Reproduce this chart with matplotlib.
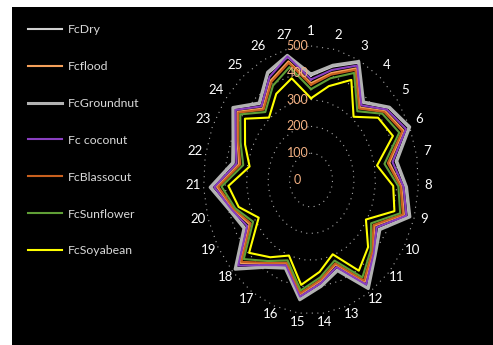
import numpy as np
import matplotlib
matplotlib.use('Agg')
import matplotlib.pyplot as plt
from matplotlib.patches import Rectangle

plt.rcParams['font.family'] = ['Lato', 'DejaVu Sans']

categories = [str(i) for i in range(1, 28)]
levels = [0, 100, 200, 300, 400, 500]

fc_dry = [390, 435, 490, 376, 451, 495, 400, 441, 475, 365, 407, 480, 356, 397,
          447, 347, 387, 480, 355, 392, 465, 365, 391, 449, 371, 445, 472]
fc_flood = [361, 410, 466, 353, 430, 468, 370, 421, 451, 341, 393, 455, 335, 379,
            429, 331, 373, 451, 330, 378, 438, 340, 372, 426, 348, 416, 455]
fc_groundnut = [395, 440, 495, 380, 455, 500, 405, 445, 480, 370, 410, 485, 360, 400,
                450, 350, 390, 485, 360, 395, 470, 370, 395, 453, 375, 450, 478]
fc_coconut = [375, 422, 478, 364, 440, 481, 385, 431, 463, 353, 400, 467, 346, 388,
              438, 339, 380, 465, 343, 385, 451, 352, 382, 438, 359, 430, 474]
fc_blassocut = [355, 404, 460, 348, 425, 462, 363, 417, 446, 336, 390, 449, 331, 375,
                425, 328, 370, 445, 324, 375, 432, 334, 368, 421, 343, 410, 449]
fc_sunflower = [339, 390, 447, 335, 414, 447, 347, 407, 433, 323, 382, 435, 320, 366,
                415, 319, 362, 430, 311, 368, 417, 320, 357, 410, 331, 394, 433]
fc_soyabean = [305, 360, 418, 308, 389, 415, 312, 383, 405, 295, 365, 405, 295, 345,
               394, 300, 345, 396, 281, 351, 385, 290, 334, 383, 304, 360, 390]

series = [
    ('FcDry', fc_dry, '#d0d0d0', 1.5),
    ('Fcflood', fc_flood, '#f4a05a', 1.5),
    ('FcGroundnut', fc_groundnut, '#b2b2b2', 2.2),
    ('Fc coconut', fc_coconut, '#8a3fc0', 1.5),
    ('FcBlassocut', fc_blassocut, '#c8601e', 1.5),
    ('FcSunflower', fc_sunflower, '#5f9e36', 1.5),
    ('FcSoyabean', fc_soyabean, '#ffff00', 1.5),
]

W, H = 493, 345
cx, cy = 311, 180          # centre of the web, pixels
sx, sy = 0.215, 0.268      # pixels per unit, horizontal / vertical

fig = plt.figure(figsize=(W / 100, H / 100), dpi=100, facecolor='white')
fig.patches.append(Rectangle((12 / W, 0), 1 - 12 / W, 1 - 7 / H,
                             transform=fig.transFigure, facecolor='black',
                             edgecolor='none', zorder=-10))
ax = fig.add_axes([0, 0, 1, 1])
ax.set_facecolor('none')
ax.set_xlim(-cx / sx, (W - cx) / sx)
ax.set_ylim(-(H - cy) / sy, cy / sy)
ax.axis('off')

n = len(categories)
theta = np.arange(n) * 2 * np.pi / n
ux, uy = np.sin(theta), np.cos(theta)

# dotted rings of the web
for lv in levels[1:]:
    ax.plot(np.append(ux, ux[0]) * lv, np.append(uy, uy[0]) * lv,
            color='#a8a8a8', lw=0.8, linestyle=(0, (1, 4)), zorder=1)

for name, vals, color, lw in series:
    r = np.array(vals + vals[:1], dtype=float)
    ax.plot(np.append(ux, ux[0]) * r, np.append(uy, uy[0]) * r,
            color=color, lw=lw, label=name, zorder=3)

for i, lab in enumerate(categories):
    ax.text(ux[i] * 548, uy[i] * 545 + 12, lab, color='white', fontsize=9.5,
            ha='center', va='center', zorder=5)

for lv in levels:
    ax.text(-62, lv, str(lv), color='#f4b183', fontsize=9,
            ha='center', va='center', zorder=5)

leg = ax.legend(loc='upper left', bbox_to_anchor=(28 / W, 1 - 24 / H),
                bbox_transform=fig.transFigure, frameon=False, fontsize=8.8,
                handlelength=2.8, handletextpad=0.5, labelspacing=2.12,
                borderpad=0, borderaxespad=0)
for t in leg.get_texts():
    t.set_color('#d9d9d9')

fig.savefig('out.png', dpi=100, facecolor='white')
